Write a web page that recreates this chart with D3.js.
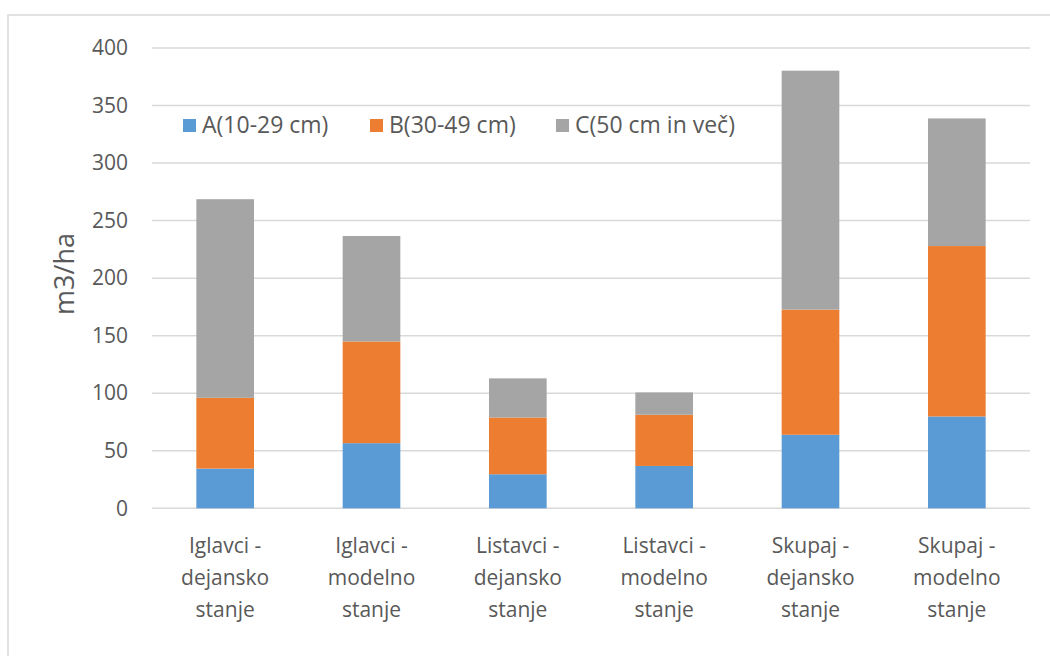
<!DOCTYPE html>
<html><head><meta charset="utf-8">
<script src="https://cdn.jsdelivr.net/npm/d3@7"></script>
<style>
body{margin:0;background:#fff;}
text{font-family:"Open Sans",Lato,sans-serif;fill:#595959;}
</style></head>
<body>
<svg id="c" width="1050" height="656"></svg>
<script>
const categories = [
  ["Iglavci -","dejansko","stanje"],
  ["Iglavci -","modelno","stanje"],
  ["Listavci -","dejansko","stanje"],
  ["Listavci -","modelno","stanje"],
  ["Skupaj -","dejansko","stanje"],
  ["Skupaj -","modelno","stanje"]
];
const seriesNames = ["A(10-29 cm)","B(30-49 cm)","C(50 cm in več)"];
const seriesColors = ["#5B9BD5","#ED7D31","#A5A5A5"];
const valuesA = [34.5, 56.6, 29.6, 36.8, 63.9, 79.8];
const valuesB = [61.5, 88.4, 49.3, 44.5, 108.8, 148.1];
const valuesC = [172.6, 91.6, 34.0, 19.4, 207.6, 110.9];
const yTicks = [0,50,100,150,200,250,300,350,400];
const yTitle = "m3/ha";

const svg = d3.select("#c");
svg.append("rect").attr("x",8).attr("y",15).attr("width",1060).attr("height",660)
  .attr("fill","#fff").attr("stroke","#d9d9d9").attr("stroke-width",1.5);

const x = d3.scaleBand().domain(d3.range(categories.length)).range([152,1030])
  .paddingInner(0.606).paddingOuter(0.303);
const y = d3.scaleLinear().domain([0,400]).range([508.3,48]);

svg.append("g").selectAll("line").data(yTicks).join("line")
  .attr("x1",152).attr("x2",1030)
  .attr("y1",d=>y(d)).attr("y2",d=>y(d))
  .attr("stroke","#d9d9d9").attr("stroke-width",1.5);

const yAxis = d3.axisLeft(y).tickValues(yTicks).tickSize(0).tickPadding(0);
const yg = svg.append("g").attr("transform","translate(128,0)").call(yAxis);
yg.select(".domain").remove();
yg.selectAll("text").attr("font-size",21).attr("fill","#595959")
  .style("font-family","'Open Sans', Lato, sans-serif");

svg.append("text").attr("transform","translate(74,274) rotate(-90)")
  .attr("text-anchor","middle").attr("font-size",27).text(yTitle);

const rows = categories.map((c,i)=>({i, A:valuesA[i], B:valuesB[i], C:valuesC[i]}));
const stack = d3.stack().keys(["A","B","C"])(rows);
svg.append("g").selectAll("g").data(stack).join("g")
  .attr("fill",(d,k)=>seriesColors[k])
  .selectAll("rect").data(d=>d).join("rect")
  .attr("x",d=>x(d.data.i)).attr("width",x.bandwidth())
  .attr("y",d=>y(d[1])).attr("height",d=>y(d[0])-y(d[1]));

const xl = svg.append("g").selectAll("text").data(categories).join("text")
  .attr("text-anchor","middle").attr("font-size",21)
  .attr("x",(d,i)=>x(i)+x.bandwidth()/2).attr("y",553);
xl.selectAll("tspan").data(d=>d).join("tspan")
  .attr("x",function(){return this.parentNode.getAttribute("x");})
  .attr("dy",(d,j)=>j===0?0:32).text(d=>d);

const legX = [183, 370, 556];
const lg = svg.append("g").selectAll("g").data(seriesNames).join("g")
  .attr("transform",(d,i)=>`translate(${legX[i]},125)`);
lg.append("rect").attr("x",0).attr("y",-6).attr("width",13).attr("height",13)
  .attr("fill",(d,i)=>seriesColors[i]);
lg.append("text").attr("x",19).attr("y",8).attr("font-size",23).text(d=>d);
</script>
</body></html>
